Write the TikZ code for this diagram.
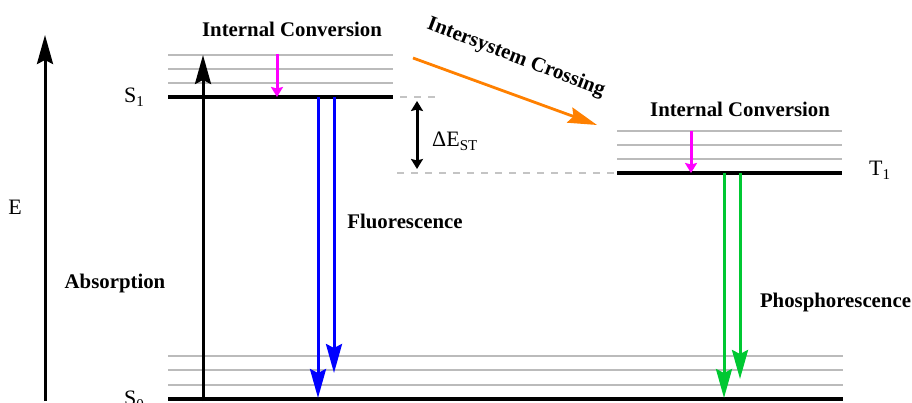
\documentclass[tikz,border=0pt]{standalone}
\usepackage{fontspec}
\setmainfont{Liberation Serif}
\usetikzlibrary{arrows.meta}
\definecolor{lvgray}{HTML}{BBBBBB}
\definecolor{dashgray}{HTML}{C4C4C4}
\definecolor{flblue}{HTML}{0000FF}
\definecolor{phgreen}{HTML}{00C832}
\definecolor{iscorange}{HTML}{FF8000}
\definecolor{icmag}{HTML}{FF00FF}
\newcommand{\lsub}[1]{\raisebox{-4pt}{\fontsize{15}{15}\selectfont #1}}
\tikzset{
  level/.style={line width=3.2pt, black},
  vib/.style={line width=2.7pt, lvgray},
  gap/.style={line width=2.2pt, dashgray, dash pattern=on 7pt off 7pt},
  bigarrow/.style={line width=3pt, -{Stealth[length=29pt 0 0,width=16pt 0 0,inset=4pt 0]}},
  smallhead/.style={Stealth[length=10pt 0 0,width=12pt 0 0,inset=1.5pt 0]},
  smallarrow/.style={line width=3pt, -{Stealth[length=10pt 0 0,width=12pt 0 0,inset=1.5pt 0]}},
  proc/.style={font=\bfseries\fontsize{20.8}{24}\selectfont, inner sep=0pt, anchor=base},
  lab/.style={font=\fontsize{22}{26}\selectfont, inner sep=0pt, anchor=base west},
}
\begin{document}
\begin{tikzpicture}[x=1pt,y=-1pt]
\useasboundingbox (0,0) rectangle (912,403);
% S1 manifold
\foreach \yy in {55,69,83} \draw[vib] (168,\yy) -- (393,\yy);
\draw[level] (168,97) coordinate (s1l) -- (393,97) coordinate (s1r);
% T1 manifold
\foreach \yy in {131,145,159} \draw[vib] (617,\yy) -- (842,\yy);
\draw[level] (617,173) coordinate (t1l) -- (842,173) coordinate (t1r);
% S0 manifold
\foreach \yy in {356,370,385} \draw[vib] (168,\yy) -- (843,\yy);
\draw[level] (168,399) coordinate (s0l) -- (843,399) coordinate (s0r);
% gap lines
\coordinate (g1a) at (400,97); \coordinate (g1b) at (436,97);
\coordinate (g2a) at (397,173); \coordinate (g2b) at (t1l);
\draw[gap] (g1a) -- (g1b);
\draw[gap] (g2a) -- (g2b);
% energy axis
\coordinate (eb) at (45,401); \coordinate (et) at (45,35);
\draw[bigarrow] (eb) -- (et);
\node[lab, anchor=base] (elab) at (15,215) {E};
% absorption
\coordinate (ab) at (203,401); \coordinate (at) at (203,55);
\draw[bigarrow] (ab) -- (at);
\node[proc] (abs) at (115,288) {Absorption};
% fluorescence
\coordinate (f1a) at (318,97); \coordinate (f1b) at (318,398);
\coordinate (f2a) at (334,97); \coordinate (f2b) at (334,373);
\draw[bigarrow, flblue] (f1a) -- (f1b);
\draw[bigarrow, flblue] (f2a) -- (f2b);
\node[proc] (fl) at (405,229) {Fluorescence};
% phosphorescence
\coordinate (p1a) at (724,173); \coordinate (p1b) at (724,398);
\coordinate (p2a) at (740,173); \coordinate (p2b) at (740,379);
\draw[bigarrow, phgreen] (p1a) -- (p1b);
\draw[bigarrow, phgreen] (p2a) -- (p2b);
\node[proc] (ph) at (835.5,307) {Phosphorescence};
% internal conversion
\coordinate (ic1a) at (277,54); \coordinate (ic1b) at (277,97);
\draw[smallarrow, icmag] (ic1a) -- (ic1b);
\node[proc] (ic1) at (292,37) {Internal Conversion};
\coordinate (ic2a) at (691,131); \coordinate (ic2b) at (691,173);
\draw[smallarrow, icmag] (ic2a) -- (ic2b);
\node[proc] (ic2) at (740,117) {Internal Conversion};
% intersystem crossing
\coordinate (isca) at (413,58); \coordinate (iscb) at (597,125);
\draw[bigarrow, iscorange, line width=2.8pt] (isca) -- (iscb);
\node[proc, anchor=center, rotate=-21] (isc) at (516,58) {Intersystem Crossing};
% Delta E_ST
\coordinate (dea) at (417,101); \coordinate (deb) at (417,169);
\draw[line width=3pt, {Stealth[length=10pt 0 0,width=12pt 0 0,inset=1.5pt 0]}-{Stealth[length=10pt 0 0,width=12pt 0 0,inset=1.5pt 0]}] (dea) -- (deb);
\node[lab] (de) at (432,147) {ΔE\lsub{ST}};
% state labels
\node[lab] (s1) at (124,103) {S\lsub{1}};
\node[lab] (s0) at (124,405) {S\lsub{0}};
\node[lab] (t1) at (869,176) {T\lsub{1}};
\end{tikzpicture}
\end{document}
